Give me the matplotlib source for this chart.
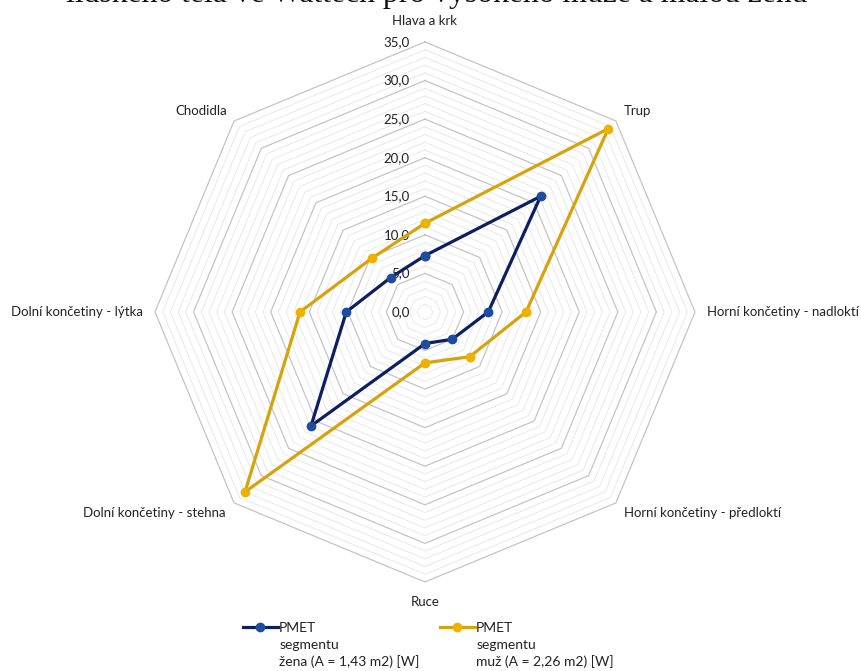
import numpy as np
import matplotlib
matplotlib.use("Agg")
import matplotlib.pyplot as plt

# Body segments, clockwise from the top
categories = [
    "Hlava a krk",
    "Trup",
    "Horní končetiny - nadloktí",
    "Horní končetiny - předloktí",
    "Ruce",
    "Dolní končetiny - stehna",
    "Dolní končetiny - lýtka",
    "Chodidla",
]

# Segment metabolic heat [W]
zena = [7.3, 21.2, 8.2, 5.0, 4.1, 20.9, 10.2, 6.3]
muz = [11.5, 33.6, 13.1, 8.2, 6.6, 33.0, 16.2, 9.8]

series_labels = [
    ["PMET", "segmentu", "žena (A = 1,43 m2) [W]"],
    ["PMET", "segmentu", "muž (A = 2,26 m2) [W]"],
]

tick_values = [0, 5, 10, 15, 20, 25, 30, 35]
tick_labels = ["0,0", "5,0", "10,0", "15,0", "20,0", "25,0", "30,0", "35,0"]

title_text = "lidského těla ve Wattech pro vysokého muže a malou ženu"

W, H = 861, 671
label_font = ["Lato", "DejaVu Sans"]
TEXT = "#222222"
BLUE_LINE = "#0d1f63"
BLUE_MARK = "#1f4c9c"
GOLD_LINE = "#d6a30c"
GOLD_MARK = "#edb200"

fig = plt.figure(figsize=(W / 100, H / 100), dpi=100)
fig.patch.set_facecolor("white")

ax = fig.add_axes([0.1800, 0.1327, 0.6272, 0.8048], projection="polar")
ax.set_theta_zero_location("N")
ax.set_theta_direction(-1)
ax.set_ylim(0, 35)
ax.grid(False)
ax.spines["polar"].set_visible(False)
ax.set_xticks([])
ax.set_yticks([])
ax.patch.set_alpha(0)

n = len(categories)
theta = np.arange(n) * 2 * np.pi / n
theta_closed = np.append(theta, theta[0])

# Octagonal gridlines: light every unit, darker every 5
for r in range(1, 36):
    major = r % 5 == 0
    ax.plot(theta_closed, [r] * (n + 1),
            color="#c4c4c4" if major else "#e8e8e8",
            lw=0.9 if major else 0.7, zorder=1, clip_on=False)

# Radial value labels along the top axis
for v, lab in zip(tick_values, tick_labels):
    ax.annotate(lab, xy=(0, v), xytext=(-11, 0), textcoords="offset points",
                ha="right", va="center", fontsize=9.5, color=TEXT,
                family=label_font, annotation_clip=False)

# Category labels around the outer octagon
offsets = [
    (0, 15, "center"),
    (6, 7, "left"),
    (8.5, 0, "left"),
    (6, -7, "left"),
    (0, -14.5, "center"),
    (-6, -7, "right"),
    (-8.5, 0, "right"),
    (-5, 7, "right"),
]
for t, cat, (dx, dy, ha) in zip(theta, categories, offsets):
    ax.annotate(cat, xy=(t, 35), xytext=(dx, dy), textcoords="offset points",
                ha=ha, va="center", fontsize=9.5, color=TEXT,
                family=label_font, annotation_clip=False)

# Data series
h_zena, = ax.plot(theta_closed, zena + zena[:1], color=BLUE_LINE, lw=2.3,
                  zorder=4, marker="o", ms=6, mfc=BLUE_MARK, mec=BLUE_MARK,
                  clip_on=False)
h_muz, = ax.plot(theta_closed, muz + muz[:1], color=GOLD_LINE, lw=2.3,
                 zorder=3, marker="o", ms=6, mfc=GOLD_MARK, mec=GOLD_MARK,
                 clip_on=False)

# Legend: handle on the first label line, remaining lines stacked beneath
legend_x = [243, 440]
first_line_y = 628
line_step = 17
for handle, lines, x0 in zip([h_zena, h_muz], series_labels, legend_x):
    leg = fig.legend([handle], [lines[0]], loc="center left",
                     bbox_to_anchor=(x0 / W, 1 - first_line_y / H),
                     frameon=False, handlelength=2.5, handletextpad=0.1,
                     prop={"family": label_font, "size": 10},
                     borderaxespad=0, borderpad=0)
    leg.get_texts()[0].set_color(TEXT)
    fig.canvas.draw()
    bb = leg.get_texts()[0].get_window_extent()
    tx = bb.x0 / W
    for k, extra in enumerate(lines[1:], start=1):
        fig.text(tx, 1 - (first_line_y + k * line_step) / H, extra,
                 ha="left", va="center", color=TEXT,
                 family=label_font, fontsize=10)

# Caption line, mostly above the top edge of the image
fig.text(0.507, 1 - 2 / H, title_text, ha="center", va="baseline",
         fontsize=22.8, family=["Liberation Serif", "DejaVu Serif"],
         color="#111111")

fig.savefig("out.png", dpi=100, facecolor="white")
